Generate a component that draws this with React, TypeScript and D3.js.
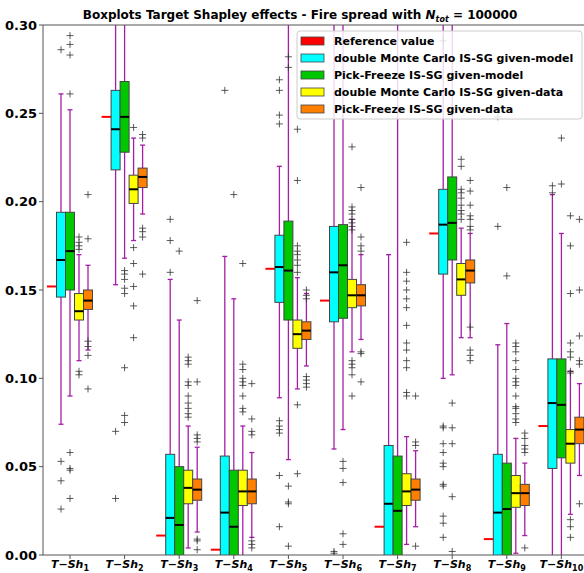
import * as d3 from 'd3';

// [whiskerLow, q1, median, q3, whiskerHigh]
type Stat = [number, number, number, number, number];

const groups = ['1', '2', '3', '4', '5', '6', '7', '8', '9', '10'];
const refValues = [0.152, 0.248, 0.011, 0.003, 0.162, 0.144, 0.016, 0.182, 0.009, 0.073];

const seriesNames = [
  'double Monte Carlo IS-SG given-model',
  'Pick-Freeze IS-SG given-model',
  'double Monte Carlo IS-SG given-data',
  'Pick-Freeze IS-SG given-data',
];
const seriesColors = ['#00ffff', '#00c800', '#ffff00', '#ff7f00'];

const dmcModel: Stat[] = [
  [0.074, 0.146, 0.167, 0.194, 0.261],
  [0.153, 0.218, 0.241, 0.263, 0.32],
  [-0.05, -0.02, 0.021, 0.057, 0.156],
  [-0.05, -0.02, 0.024, 0.056, 0.169],
  [0.089, 0.143, 0.163, 0.181, 0.22],
  [0.06, 0.132, 0.16, 0.186, 0.32],
  [-0.05, -0.02, 0.029, 0.062, 0.17],
  [0.1, 0.159, 0.187, 0.207, 0.32],
  [-0.05, -0.02, 0.024, 0.057, 0.119],
  [-0.05, 0.049, 0.086, 0.111, 0.204],
];
const pfModel: Stat[] = [
  [0.09, 0.15, 0.172, 0.194, 0.252],
  [0.168, 0.228, 0.248, 0.268, 0.32],
  [-0.05, -0.01, 0.017, 0.05, 0.133],
  [-0.05, -0.02, 0.016, 0.048, 0.145],
  [0.054, 0.133, 0.161, 0.189, 0.32],
  [0.071, 0.134, 0.164, 0.187, 0.32],
  [-0.05, -0.02, 0.025, 0.056, 0.32],
  [0.102, 0.167, 0.188, 0.214, 0.32],
  [-0.05, -0.02, 0.026, 0.052, 0.131],
  [-0.05, 0.055, 0.085, 0.111, 0.182],
];
const dmcData: Stat[] = [
  [0.11, 0.133, 0.138, 0.148, 0.17],
  [0.178, 0.199, 0.207, 0.215, 0.236],
  [0.004, 0.029, 0.038, 0.048, 0.073],
  [-0.01, 0.028, 0.036, 0.048, 0.073],
  [0.094, 0.117, 0.125, 0.133, 0.157],
  [0.115, 0.14, 0.147, 0.156, 0.19],
  [0.006, 0.028, 0.036, 0.046, 0.067],
  [0.123, 0.147, 0.156, 0.165, 0.185],
  [0.001, 0.027, 0.035, 0.045, 0.066],
  [0.023, 0.052, 0.063, 0.071, 0.104],
];
const pfData: Stat[] = [
  [0.116, 0.139, 0.144, 0.15, 0.164],
  [0.193, 0.208, 0.214, 0.219, 0.232],
  [0.013, 0.031, 0.037, 0.043, 0.061],
  [0.01, 0.029, 0.036, 0.043, 0.058],
  [0.107, 0.122, 0.127, 0.132, 0.148],
  [0.122, 0.141, 0.147, 0.153, 0.17],
  [0.016, 0.031, 0.037, 0.043, 0.059],
  [0.123, 0.154, 0.161, 0.167, 0.182],
  [0.011, 0.028, 0.035, 0.04, 0.052],
  [0.045, 0.063, 0.071, 0.078, 0.097],
];

const dmcModelOut: number[][] = [
  [0.286, 0.053, 0.042, 0.026],
  [0.07, 0.032],
  [0.19, 0.178, 0.16],
  [0.263],
  [0.269, 0.263, 0.249, 0.244, 0.076, 0.073, 0.071, 0.069, 0.045, 0.016],
  [0.002, 0.001],
  [],
  [0.291, 0.073, 0.072, 0.063, 0.058, 0.052, 0.05, 0.04, 0.039, 0.022, 0.018, 0.01],
  [0.248, 0.186],
  [0.209, 0.205],
];
const pfModelOut: number[][] = [
  [0.294, 0.289, 0.283, 0.261, 0.058, 0.049, 0.048, 0.032],
  [0.161, 0.159, 0.156, 0.151, 0.148, 0.106, 0.079, 0.075],
  [0.172],
  [0.204],
  [0.282, 0.276, 0.039, 0.03, 0.029, 0.005],
  [0.053, 0.049, 0.041, 0.012, 0.006],
  [],
  [0.086, 0.072, 0.063, 0.033, 0.002],
  [0.208, 0.158],
  [0.236, 0.21],
];
const dmcDataOut: number[][] = [
  [0.18, 0.177, 0.175, 0.173, 0.104, 0.102],
  [0.242, 0.174, 0.165, 0.152, 0.141, 0.123],
  [0.112, 0.11, 0.108, 0.098, 0.096, 0.09, 0.086, 0.083, 0.08, 0.078],
  [0.165, 0.108, 0.105, 0.1, 0.098, 0.096, 0.09, 0.083, 0.081],
  [0.241, 0.212, 0.175, 0.172, 0.17, 0.167, 0.164, 0.16, 0.085, 0.046],
  [0.231, 0.197, 0.195, 0.193, 0.19, 0.188, 0.186, 0.184, 0.11, 0.108, 0.106, 0.102, 0.09],
  [0.177, 0.16, 0.155, 0.15, 0.145, 0.14, 0.13, 0.12, 0.116, 0.11, 0.106, 0.092, 0.09],
  [0.224, 0.22, 0.207, 0.205, 0.202, 0.198, 0.195, 0.193, 0.19],
  [0.12, 0.118, 0.115, 0.11, 0.105, 0.1, 0.098, 0.096, 0.09, 0.084, 0.083, 0.08, 0.077, 0.075],
  [0.192, 0.175, 0.148, 0.12, 0.115, 0.112, 0.104, 0.103, 0.02, 0.016, 0.01],
];
const pfDataOut: number[][] = [
  [0.204, 0.179, 0.121, 0.118, 0.113, 0.094],
  [0.238, 0.236, 0.185, 0.183, 0.18, 0.159],
  [0.144, 0.098, 0.068, 0.066, 0.064, 0.009, 0.008, 0.003],
  [0.097, 0.077, 0.07, 0.068, 0.008, 0.006, 0.004],
  [0.15, 0.147, 0.145, 0.101, 0.099, 0.097, 0.095],
  [0.208, 0.18, 0.175, 0.172, 0.115, 0.114, 0.098],
  [0.09, 0.064, 0.062, 0.005],
  [0.212, 0.206, 0.198, 0.192, 0.19, 0.186, 0.184, 0.129, 0.116, 0.113, 0.11],
  [0.069, 0.066, 0.062, 0.06, 0.058, 0.004],
  [0.19, 0.15, 0.124, 0.11, 0.108, 0.029],
];

const yTicks = [0, 0.05, 0.1, 0.15, 0.2, 0.25, 0.3];

const stats = [dmcModel, pfModel, dmcData, pfData];
const outliers = [dmcModelOut, pfModelOut, dmcDataOut, pfDataOut];

const W = 584;
const H = 573;
const left = 43;
const top = 25;
const bottom = 555;
const right = 600;

export default function App() {
  const x = d3.scaleLinear().domain([1, 10]).range([70, 561.4]);
  const y = d3.scaleLinear().domain([0, 0.3]).range([bottom, top]);
  const unit = x(2) - x(1);
  const offsets = [-9, 0, 9, 18].map((d) => d / unit);
  const bw = 9;
  const whisk = '#a61ea6';
  const font = 'DejaVu Sans, sans-serif';

  return (
    <svg width={W} height={H} style={{ position: 'absolute', left: 0, top: 0 }} fontFamily={font}>
      <defs>
        <clipPath id="plot">
          <rect x={left} y={top} width={right - left} height={bottom - top} />
        </clipPath>
      </defs>
      <rect width={W} height={H} fill="white" />
      <g clipPath="url(#plot)">
        {groups.map((g, gi) => (
          <g key={g}>
            <line x1={x(gi + 1) - 23} x2={x(gi + 1) - 13} y1={y(refValues[gi])} y2={y(refValues[gi])} stroke="red" strokeWidth={2} />
            {stats.map((s, si) => {
              const [lo, q1, med, q3, hi] = s[gi];
              const cx = x(gi + 1 + offsets[si]);
              return (
                <g key={si}>
                  <line x1={cx} x2={cx} y1={y(q3)} y2={y(hi)} stroke={whisk} strokeWidth={1.3} />
                  <line x1={cx} x2={cx} y1={y(q1)} y2={y(lo)} stroke={whisk} strokeWidth={1.3} />
                  <line x1={cx - 2.5} x2={cx + 2.5} y1={y(hi)} y2={y(hi)} stroke={whisk} strokeWidth={1.3} />
                  <line x1={cx - 2.5} x2={cx + 2.5} y1={y(lo)} y2={y(lo)} stroke={whisk} strokeWidth={1.3} />
                  <rect x={cx - bw / 2} y={y(q3)} width={bw} height={y(q1) - y(q3)} fill={seriesColors[si]} stroke="#444" strokeWidth={1} />
                  <line x1={cx - bw / 2} x2={cx + bw / 2} y1={y(med)} y2={y(med)} stroke="black" strokeWidth={2} />
                  {outliers[si][gi].map((o, oi) => (
                    <path key={oi} d={`M${cx - 3.5},${y(o)}h7M${cx},${y(o) - 3.5}v7`} stroke="#333" strokeOpacity={0.8} strokeWidth={1} />
                  ))}
                </g>
              );
            })}
          </g>
        ))}
      </g>
      <line x1={left} x2={left} y1={top} y2={bottom} stroke="#555" />
      <line x1={left} x2={right} y1={bottom} y2={bottom} stroke="#555" />
      <line x1={left} x2={right} y1={top} y2={top} stroke="#555" />
      {yTicks.map((t) => (
        <g key={t}>
          <line x1={left - 4} x2={left} y1={y(t)} y2={y(t)} stroke="#555" />
          <text x={left - 6} y={y(t)} dy="0.35em" textAnchor="end" fontSize={13} fontWeight="bold">
            {t.toFixed(2)}
          </text>
        </g>
      ))}
      {groups.map((g, gi) => (
        <g key={g}>
          <line x1={x(gi + 1)} x2={x(gi + 1)} y1={bottom} y2={bottom + 4} stroke="#555" />
          <text x={x(gi + 1)} y={bottom + 13} textAnchor="middle" fontSize={11} fontWeight="bold" fontStyle="italic">
            T−Sh<tspan fontSize={8} dy={2.5} fontStyle="normal">{g}</tspan>
          </text>
        </g>
      ))}
      <text x={300} y={19} textAnchor="middle" fontSize={12} fontWeight="bold">
        Boxplots Target Shapley effects - Fire spread with <tspan fontStyle="italic">N</tspan>
        <tspan fontSize={8} dy={3} fontStyle="italic">tot</tspan>
        <tspan dy={-3}> = 100000</tspan>
      </text>
      <g>
        <rect x={297} y={31} width={285} height={88} rx={3} fill="white" fillOpacity={0.82} stroke="#ccc" />
        {['Reference value', ...seriesNames].map((n, i) => (
          <g key={n} transform={`translate(301,${41 + i * 17})`}>
            <rect x={0} y={-4} width={23} height={8} fill={['red', ...seriesColors][i]} stroke="#444" strokeWidth={0.8} />
            <text x={33} y={0} dy="0.35em" fontSize={11} fontWeight="bold">{n}</text>
          </g>
        ))}
      </g>
    </svg>
  );
}
